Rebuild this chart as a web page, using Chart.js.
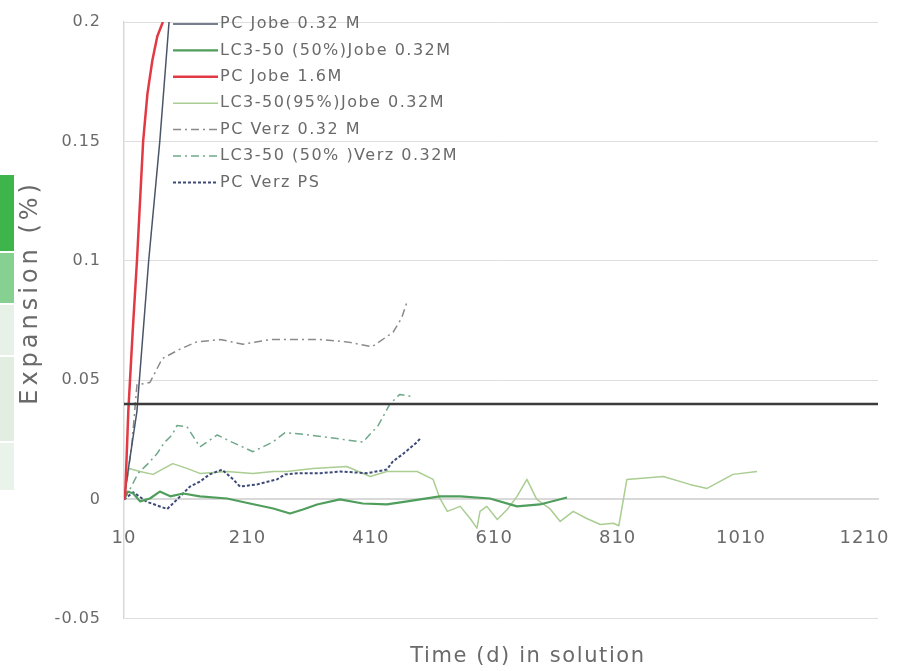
<!DOCTYPE html>
<html>
<head>
<meta charset="utf-8">
<script src="https://cdn.jsdelivr.net/npm/chart.js@4.4.1/dist/chart.umd.min.js"></script>
<style>
  html, body { margin: 0; padding: 0; background: #ffffff; }
  #wrap { width: 901px; height: 671px; }
</style>
</head>
<body>
<div id="wrap"><canvas id="c" width="901" height="671"></canvas></div>
<script>
// ---- axis ticks ----
const xTickValues = [10, 210, 410, 610, 810, 1010, 1210];
const xTickLabels = ['10', '210', '410', '610', '810', '1010', '1210'];
const yTickValues = [-0.05, 0, 0.05, 0.1, 0.15, 0.2];
const yTickLabels = ['-0.05', '0', '0.05', '0.1', '0.15', '0.2'];

// ---- series names ----
const seriesNames = [
  'PC Jobe 0.32 M',
  'LC3-50 (50%)Jobe 0.32M',
  'PC Jobe 1.6M',
  'LC3-50(95%)Jobe 0.32M',
  'PC Verz 0.32 M',
  'LC3-50 (50% )Verz 0.32M',
  'PC Verz PS'
];

// ---- expansion (%) vs. days in solution ----
const pcJobe032Days = [10, 12, 31, 50, 68, 83];
const pcJobe032Vals = [0, 0.004, 0.037, 0.1, 0.15, 0.2];

const lc50JobeDays = [10, 16, 25, 36, 52, 68, 85, 106, 133, 177, 214, 252, 279, 300, 323, 360, 397, 436, 469, 490, 522, 555, 603, 647, 684, 728];
const lc50JobeVals = [0, 0.0033, 0.0025, -0.0008, 0.0004, 0.0033, 0.0013, 0.0025, 0.0013, 0.0004, -0.0017, -0.0038, -0.0059, -0.0042, -0.0021, 0, -0.0017, -0.0021, -0.0008, 0, 0.0013, 0.0013, 0.0004, -0.0029, -0.0021, 0.0008];

const pcJobe16Days = [10, 12, 17, 24, 31, 41, 48, 56, 64, 73];
const pcJobe16Vals = [0, 0.002, 0.037, 0.07, 0.1, 0.15, 0.17, 0.184, 0.194, 0.2];

const lc95JobeDays = [10, 18, 36, 57, 89, 112, 133, 177, 219, 252, 274, 316, 371, 409, 436, 485, 511, 522, 534, 555, 571, 582, 587, 598, 615, 631, 647, 663, 679, 700, 717, 738, 760, 782, 803, 812, 825, 884, 927, 955, 997, 1036];
const lc95JobeVals = [0, 0.013, 0.0117, 0.0105, 0.015, 0.013, 0.0109, 0.0117, 0.0109, 0.0117, 0.0117, 0.013, 0.0138, 0.0096, 0.0117, 0.0117, 0.0084, 0.0004, -0.005, -0.0029, -0.008, -0.012, -0.005, -0.0029, -0.0084, -0.0042, 0.0013, 0.0084, 0, -0.0038, -0.0092, -0.005, -0.008, -0.0105, -0.01, -0.011, 0.0084, 0.0096, 0.0063, 0.0046, 0.0105, 0.0117];

const pcVerzDays = [10, 17, 23, 31, 52, 72, 101, 128, 166, 203, 247, 290, 328, 371, 412, 446, 460, 469];
const pcVerzVals = [0, 0.012, 0.024, 0.048, 0.049, 0.059, 0.063, 0.066, 0.067, 0.065, 0.067, 0.067, 0.067, 0.066, 0.064, 0.070, 0.076, 0.083];

const lc50VerzDays = [10, 21, 33, 49, 63, 76, 88, 96, 112, 133, 161, 185, 219, 251, 271, 311, 355, 397, 422, 441, 457, 478];
const lc50VerzVals = [0, 0.005, 0.011, 0.015, 0.019, 0.024, 0.027, 0.031, 0.0305, 0.022, 0.027, 0.024, 0.020, 0.024, 0.028, 0.027, 0.0255, 0.024, 0.031, 0.040, 0.044, 0.043];

const pcVerzPsDays = [10, 25, 47, 80, 96, 117, 133, 149, 169, 187, 198, 226, 258, 271, 295, 328, 360, 404, 436, 446, 462, 485, 490];
const pcVerzPsVals = [0, 0.003, -0.001, -0.004, 0, 0.0054, 0.0075, 0.0105, 0.0125, 0.0084, 0.0054, 0.0063, 0.0084, 0.0105, 0.011, 0.011, 0.0117, 0.011, 0.0125, 0.016, 0.019, 0.024, 0.0255];

// 0.04 % expansion limit
const limitDays = [10, 1232];
const limitVals = [0.04, 0.04];

const toPoints = (days, vals) => days.map((d, i) => ({ x: d, y: vals[i] }));

const TEXT = '#6a6a6a';
const FONT = 'DejaVu Sans';

function series(label, days, vals, color, width, dash, order) {
  return {
    label, data: toPoints(days, vals),
    borderColor: color, backgroundColor: color,
    borderWidth: width, borderDash: dash,
    pointRadius: 0, tension: 0, fill: false,
    borderJoinStyle: 'round', inLegend: true, order
  };
}

const datasets = [
  series(seriesNames[0], pcJobe032Days, pcJobe032Vals, '#4a5568', 1.5, [], 3),
  series(seriesNames[1], lc50JobeDays, lc50JobeVals, '#4f9e5c', 2.2, [], 4),
  series(seriesNames[2], pcJobe16Days, pcJobe16Vals, '#e23a44', 2.5, [], 2),
  series(seriesNames[3], lc95JobeDays, lc95JobeVals, '#aacd92', 1.5, [], 6),
  series(seriesNames[4], pcVerzDays, pcVerzVals, '#8a8a8a', 1.5, [8, 4, 2, 4], 5),
  series(seriesNames[5], lc50VerzDays, lc50VerzVals, '#6fa98a', 1.5, [8, 4, 2, 4], 5),
  series(seriesNames[6], pcVerzPsDays, pcVerzPsVals, '#3d4a78', 2, [3, 2], 4),
  {
    label: 'limit', data: toPoints(limitDays, limitVals),
    borderColor: '#3b3b3b', borderWidth: 2.5, pointRadius: 0,
    fill: false, inLegend: false, order: 1
  }
];

// wraps a draw method: extra letter spacing and an optional offset
function spaced(obj, method, spacing, dx = 0, dy = 0) {
  if (!obj || obj['_sp_' + method]) return;
  const orig = obj[method].bind(obj);
  obj[method] = function (...args) {
    const ctx = this.ctx || (this.chart && this.chart.ctx);
    ctx.save();
    ctx.letterSpacing = spacing;
    ctx.translate(dx, dy);
    try { return orig(...args); } finally { ctx.restore(); }
  };
  obj['_sp_' + method] = true;
}

const textSpacing = {
  id: 'textSpacing',
  afterLayout(chart) {
    spaced(chart.scales.x, 'drawLabels', '1px');
    spaced(chart.scales.y, 'drawLabels', '1px');
    spaced(chart.scales.y, 'drawTitle', '4px', 0, -28);
    spaced(chart.titleBlock, 'draw', '1.6px', 89, 0);
  }
};

// side swatch strip on the far left edge
const sideStrip = {
  id: 'sideStrip',
  beforeDraw(chart) {
    const ctx = chart.ctx;
    ctx.save();
    ctx.fillStyle = '#ffffff';
    ctx.fillRect(0, 0, chart.width, chart.height);
    const cells = [
      [175, 76, '#3db54b'],
      [253, 50, '#86d091'],
      [305, 50, '#e7f1e7'],
      [357, 84, '#e3eee3'],
      [443, 47, '#e9f3e9']
    ];
    for (const [y, h, c] of cells) {
      ctx.fillStyle = c;
      ctx.fillRect(0, y, 14, h);
    }
    ctx.restore();
  }
};

// legend drawn inside the plot area, top-left
const innerLegend = {
  id: 'innerLegend',
  afterDraw(chart) {
    const ctx = chart.ctx;
    const area = chart.chartArea;
    const x0 = area.left + 49;
    const y0 = area.top + 2;
    const rowH = 26.4;
    ctx.save();
    ctx.font = '16px "' + FONT + '"';
    ctx.letterSpacing = '1.5px';
    ctx.textBaseline = 'middle';
    ctx.textAlign = 'left';
    chart.data.datasets.filter(d => d.inLegend).forEach((d, i) => {
      const y = y0 + i * rowH;
      ctx.strokeStyle = d.borderColor;
      ctx.lineWidth = Math.max(1.5, d.borderWidth);
      ctx.setLineDash(d.borderDash || []);
      ctx.beginPath();
      ctx.moveTo(x0, y);
      ctx.lineTo(x0 + 45, y);
      ctx.stroke();
      ctx.setLineDash([]);
      ctx.fillStyle = TEXT;
      ctx.fillText(d.label, x0 + 47, y);
    });
    ctx.restore();
  }
};

new Chart(document.getElementById('c'), {
  type: 'line',
  data: { datasets },
  options: {
    responsive: false,
    animation: false,
    layout: { padding: { top: 22, right: 23, left: 0, bottom: 0 } },
    plugins: {
      legend: { display: false },
      tooltip: { enabled: false },
      title: {
        display: true, position: 'bottom', text: 'Time (d) in solution',
        color: TEXT, font: { family: FONT, size: 21, weight: 'normal' },
        padding: { top: 25, bottom: 2 }
      }
    },
    scales: {
      x: {
        type: 'linear', min: 10, max: 1232,
        position: { y: 0 },
        afterBuildTicks: s => { s.ticks = xTickValues.map(v => ({ value: v })); },
        afterFit: s => { s.paddingLeft = 0; s.paddingRight = 0; s.paddingTop = 0; s.paddingBottom = 0; },
        ticks: {
          callback: (v, i) => xTickLabels[i],
          color: TEXT, font: { family: FONT, size: 18 }, padding: 20,
          maxRotation: 0, autoSkip: false
        },
        grid: { display: false },
        border: { display: true, color: '#d9d9d9', width: 2 }
      },
      y: {
        type: 'linear', min: -0.05, max: 0.2,
        afterBuildTicks: s => { s.ticks = yTickValues.map(v => ({ value: v })); },
        afterFit: s => { s.width = 124; s.paddingTop = 0; s.paddingBottom = 0; },
        ticks: {
          callback: (v, i) => yTickLabels[i],
          color: TEXT, font: { family: FONT, size: 16 }, padding: 23
        },
        grid: { color: '#dedede', lineWidth: 1, drawTicks: false },
        border: { display: true, color: '#d9d9d9', width: 1.5 },
        title: {
          display: true, text: 'Expansion (%)', color: TEXT,
          font: { family: FONT, size: 24, weight: 'normal' },
          padding: { top: 16, bottom: 0 }
        }
      }
    }
  },
  plugins: [textSpacing, sideStrip, innerLegend]
});
</script>
</body>
</html>
